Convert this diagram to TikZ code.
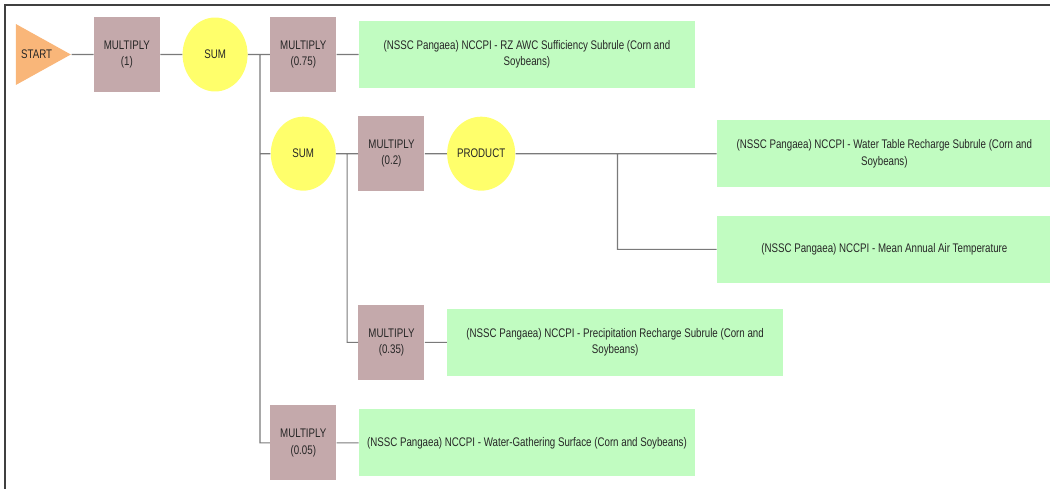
\documentclass[tikz,border=0pt]{standalone}
\usepackage{fontspec}
\setmainfont{Liberation Sans}[FakeStretch=0.78]
\usetikzlibrary{positioning, shapes.geometric}
\definecolor{multfill}{HTML}{C4A9AB}
\definecolor{sumfill}{HTML}{FFFF6B}
\definecolor{leaffill}{HTML}{C1FCC1}
\definecolor{startfill}{HTML}{F9B679}
\definecolor{wiregray}{HTML}{7A7A7A}
\tikzset{
x=0.02cm, y=-0.02cm, % one unit is one pixel of the screen shot
node distance=0.44cm, % gap between two blocks of a chain
every node/.style={font=\fontsize{7.1}{9.4}\selectfont, text=black!85, align=center, inner sep=0pt},
mult/.style={rectangle, fill=multfill, minimum width=1.32cm, minimum height=1.5cm}, % weight blocks
summer/.style={ellipse, fill=sumfill, minimum width=1.3cm, minimum height=1.48cm}, % sum and product
leaf/.style={rectangle, fill=leaffill, minimum width=6.72cm, minimum height=1.34cm}, % input rules
wire/.style={draw=wiregray, line width=0.65pt},
}

\begin{document}
\begin{tikzpicture}
            \useasboundingbox (0,0) rectangle (1050,489);
            \draw[line width=1.6pt, black!75] (5,489) -- (5,5) -- (1050,5);

            \node[isosceles triangle, isosceles triangle apex angle=58, isosceles triangle stretches,
                  minimum height=1.1cm, minimum width=1.22cm, fill=startfill, anchor=west] (start) at (15.5,54.5) {START};

            \node [mult, right=of start] (m1) {MULTIPLY\\(1)};
            \node [summer, right=of m1] (sum1) {SUM};
            \node [mult, right=of sum1] (m75) {MULTIPLY\\(0.75)};
            \node [leaf, right=of m75] (rz) {(NSSC Pangaea) NCCPI - RZ AWC Sufficiency Subrule (Corn and\\Soybeans)};

            \node [summer, below=0.48cm of m75] (sum2) {SUM};
            \node [mult, right=of sum2] (m20) {MULTIPLY\\(0.2)};
            \node [summer, right=of m20] (prod) {PRODUCT};
            \node [leaf, minimum width=6.7cm, right=4.02cm of prod] (wt) {(NSSC Pangaea) NCCPI - Water Table Recharge Subrule (Corn and\\Soybeans)};
            \node [leaf, minimum width=6.7cm, below=0.56cm of wt] (mat) {(NSSC Pangaea) NCCPI - Mean Annual Air Temperature};

            \node [mult, below=2.26cm of m20] (m35) {MULTIPLY\\(0.35)};
            \node [leaf, right=of m35] (pr) {(NSSC Pangaea) NCCPI - Precipitation Recharge Subrule (Corn and\\Soybeans)};

            \node [mult, below=4.28cm of sum2] (m05) {MULTIPLY\\(0.05)};
            \node [leaf, right=of m05] (wg) {(NSSC Pangaea) NCCPI - Water-Gathering Surface (Corn and Soybeans)};

            % branch points
            \coordinate (j1) at ([xshift=0.24cm]sum1.east);
            \coordinate (j2) at ([xshift=0.22cm]sum2.east);
            \coordinate (j3) at ([xshift=2.04cm]prod.east);

            \draw[wire] (start.apex) -- (m1)
                        (m1) -- (sum1)
                        (sum1) -- (m75)
                        (m75) -- (rz)
                        (j1) |- (sum2.west)
                        (j1) |- (m05.west)
                        (sum2) -- (m20)
                        (m20) -- (prod)
                        (prod) -- (wt)
                        (j3) |- (mat.west)
                        (j2) |- (m35.west)
                        (m35) -- (pr)
                        (m05) -- (wg)
                        ;
        \end{tikzpicture}
\end{document}
